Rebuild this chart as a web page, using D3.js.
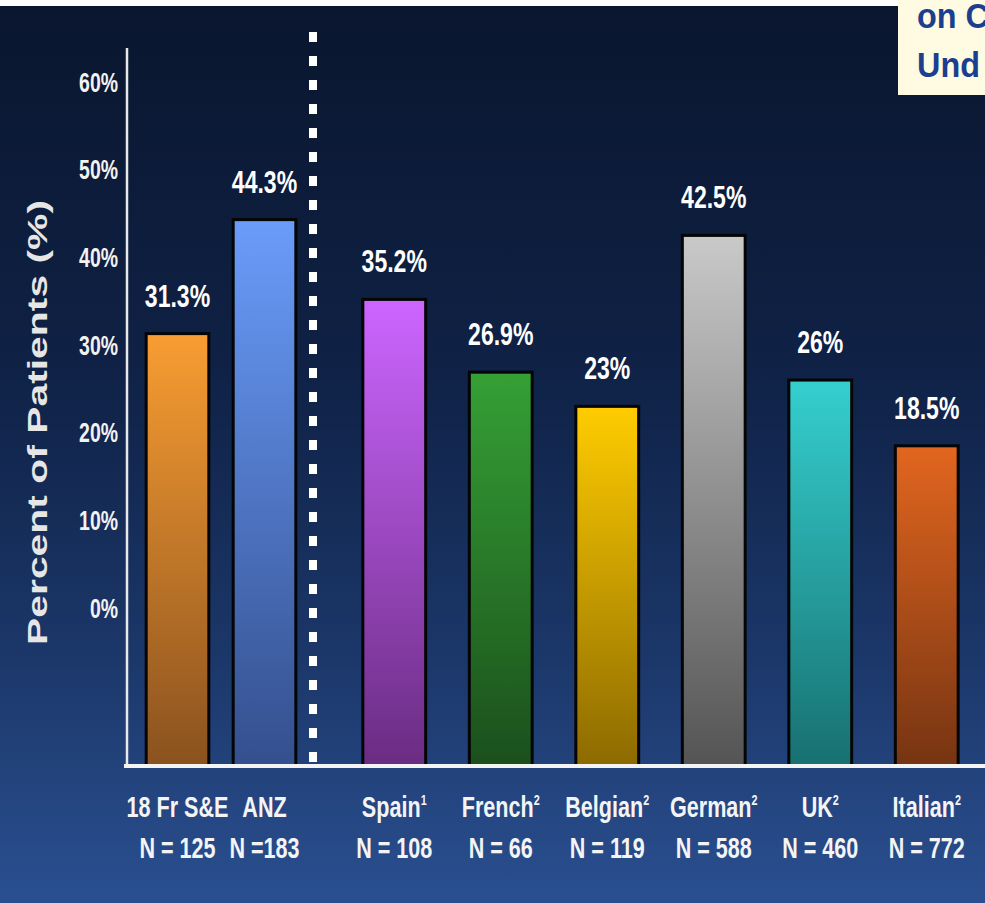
<!DOCTYPE html>
<html>
<head>
<meta charset="utf-8">
<script src="https://cdn.jsdelivr.net/npm/d3@7"></script>
<style>
  html, body { margin: 0; padding: 0; background: #0b1831; overflow: hidden; }
  svg { display: block; }
  text { font-family: "Liberation Sans", Arial, sans-serif; font-weight: bold; }
</style>
</head>
<body>
<svg id="chart" width="985" height="903"></svg>
<script>
// Share of patients per study cohort
const categories   = ["18 Fr S&E", "ANZ", "Spain", "French", "Belgian", "German", "UK", "Italian"];
const footnotes    = ["", "", "1", "2", "2", "2", "2", "2"];
const sampleLabels = ["N = 125", "N =183", "N = 108", "N = 66", "N = 119", "N = 588", "N = 460", "N = 772"];
const values       = [31.3, 44.3, 35.2, 26.9, 23, 42.5, 26, 18.5];
const yTicks       = [0, 10, 20, 30, 40, 50, 60];

// Bar gradient colours (top, bottom)
const palette = [
  ["#f89d32", "#8a521f"],
  ["#6a9cfa", "#344f8d"],
  ["#cc66ff", "#6a2c82"],
  ["#35a035", "#1b4f1c"],
  ["#ffcc00", "#8c6a00"],
  ["#c9c9c9", "#545454"],
  ["#35cfcf", "#187070"],
  ["#e2661f", "#763412"]
];

const W = 985, H = 903;
const svg = d3.select("#chart");
const defs = svg.append("defs");

// Slide background
const bg = defs.append("linearGradient").attr("id", "bg")
  .attr("x1", 0).attr("y1", 0).attr("x2", 0).attr("y2", 1);
bg.append("stop").attr("offset", "0%").attr("stop-color", "#0a162e");
bg.append("stop").attr("offset", "40%").attr("stop-color", "#0f2145");
bg.append("stop").attr("offset", "70%").attr("stop-color", "#1a3566");
bg.append("stop").attr("offset", "100%").attr("stop-color", "#2a4f90");
svg.append("rect").attr("width", W).attr("height", H).attr("fill", "url(#bg)");

// Thin white strip across the top edge
svg.append("rect").attr("x", 0).attr("y", 0).attr("width", W).attr("height", 6).attr("fill", "#ffffff");

// Title box in the top-right corner (runs off the slide edge)
svg.append("rect").attr("x", 898).attr("y", 0).attr("width", 90).attr("height", 95).attr("fill", "#fffbe3");
const titleBox = svg.append("g").attr("fill", "#1b3f8e").style("font-size", "36px");
titleBox.append("text").attr("transform", "translate(917,28) scale(0.9,1)").text("on C");
titleBox.append("text").attr("transform", "translate(917,77) scale(0.9,1)").text("Und");

// Scales
const floorY = 766;
const y = d3.scaleLinear().domain([0, 60]).range([608, 82]);

const idx = d3.range(categories.length);
const leftIdx = idx.slice(0, 2);
const rightIdx = idx.slice(2);
const xLeft = d3.scaleBand().domain(leftIdx).range([134, 308]).paddingInner(0.28).paddingOuter(0.14);
const xRight = d3.scaleBand().domain(rightIdx).range([341, 980]).paddingInner(0.41).paddingOuter(0.205);
const xPos = i => (i < 2 ? xLeft(i) : xRight(i));
const bw = i => (i < 2 ? xLeft.bandwidth() : xRight.bandwidth());
const cx = i => xPos(i) + bw(i) / 2;

// Per-bar gradients
palette.forEach((c, i) => {
  const g = defs.append("linearGradient").attr("id", "bar" + i)
    .attr("x1", 0).attr("y1", 0).attr("x2", 0).attr("y2", 1);
  g.append("stop").attr("offset", "0%").attr("stop-color", c[0]);
  g.append("stop").attr("offset", "100%").attr("stop-color", c[1]);
});

// Y axis (labels only) and its line
const yAxis = d3.axisLeft(y).tickValues(yTicks).tickSize(0).tickPadding(0)
  .tickFormat(d => d + "%");
const yAxisG = svg.append("g").attr("transform", "translate(118,0)").call(yAxis);
yAxisG.select(".domain").remove();
yAxisG.selectAll("text")
  .attr("fill", "#f2f2f2")
  .style("font-size", "27px")
  .style("font-family", "'Liberation Sans', Arial, sans-serif")
  .style("font-weight", "bold")
  .attr("x", null).attr("dy", null)
  .attr("dominant-baseline", "central")
  .attr("transform", "scale(0.72,1)");

svg.append("line").attr("x1", 127).attr("x2", 127).attr("y1", 48).attr("y2", floorY)
  .attr("stroke", "#e8e8e8").attr("stroke-width", 2.5);

// Axis title
svg.append("text")
  .attr("transform", `translate(47,${(200 + 645) / 2}) rotate(-90)`)
  .attr("text-anchor", "middle")
  .attr("fill", "#e6e6e6")
  .style("font-size", "28px")
  .attr("textLength", 445)
  .attr("lengthAdjust", "spacingAndGlyphs")
  .text("Percent of Patients (%)");

// Bars
svg.append("g").selectAll("rect").data(idx).join("rect")
  .attr("x", i => xPos(i))
  .attr("width", i => bw(i))
  .attr("y", i => y(values[i]))
  .attr("height", i => floorY - y(values[i]))
  .attr("fill", i => `url(#bar${i})`)
  .attr("stroke", "#050505")
  .attr("stroke-width", 3);

// Baseline
svg.append("line").attr("x1", 124).attr("x2", W).attr("y1", floorY).attr("y2", floorY)
  .attr("stroke", "#f4f4f4").attr("stroke-width", 4);

// Dotted separator between the two groups of studies
svg.append("line").attr("x1", 313).attr("x2", 313).attr("y1", 32).attr("y2", floorY)
  .attr("stroke", "#ffffff").attr("stroke-width", 8).attr("stroke-dasharray", "10 14");

// Value labels
svg.append("g").selectAll("text").data(idx).join("text")
  .attr("transform", i => `translate(${cx(i)},${y(values[i]) - 27}) scale(0.72,1)`)
  .attr("text-anchor", "middle")
  .attr("fill", "#ffffff")
  .style("font-size", "32px")
  .text(i => values[i] + "%");

// Category labels with footnote markers and sample sizes
const cat = svg.append("g").selectAll("g").data(idx).join("g")
  .attr("transform", i => `translate(${cx(i)},0) scale(0.72,1)`);
const nameText = cat.append("text")
  .attr("y", 817).attr("text-anchor", "middle").attr("fill", "#f4f4f4")
  .style("font-size", "30px");
nameText.append("tspan").text(i => categories[i]);
nameText.append("tspan")
  .style("font-size", "15px").attr("dy", -12)
  .text(i => footnotes[i]);
cat.append("text")
  .attr("y", 858).attr("text-anchor", "middle").attr("fill", "#f4f4f4")
  .style("font-size", "30px")
  .text(i => sampleLabels[i]);
</script>
</body>
</html>
